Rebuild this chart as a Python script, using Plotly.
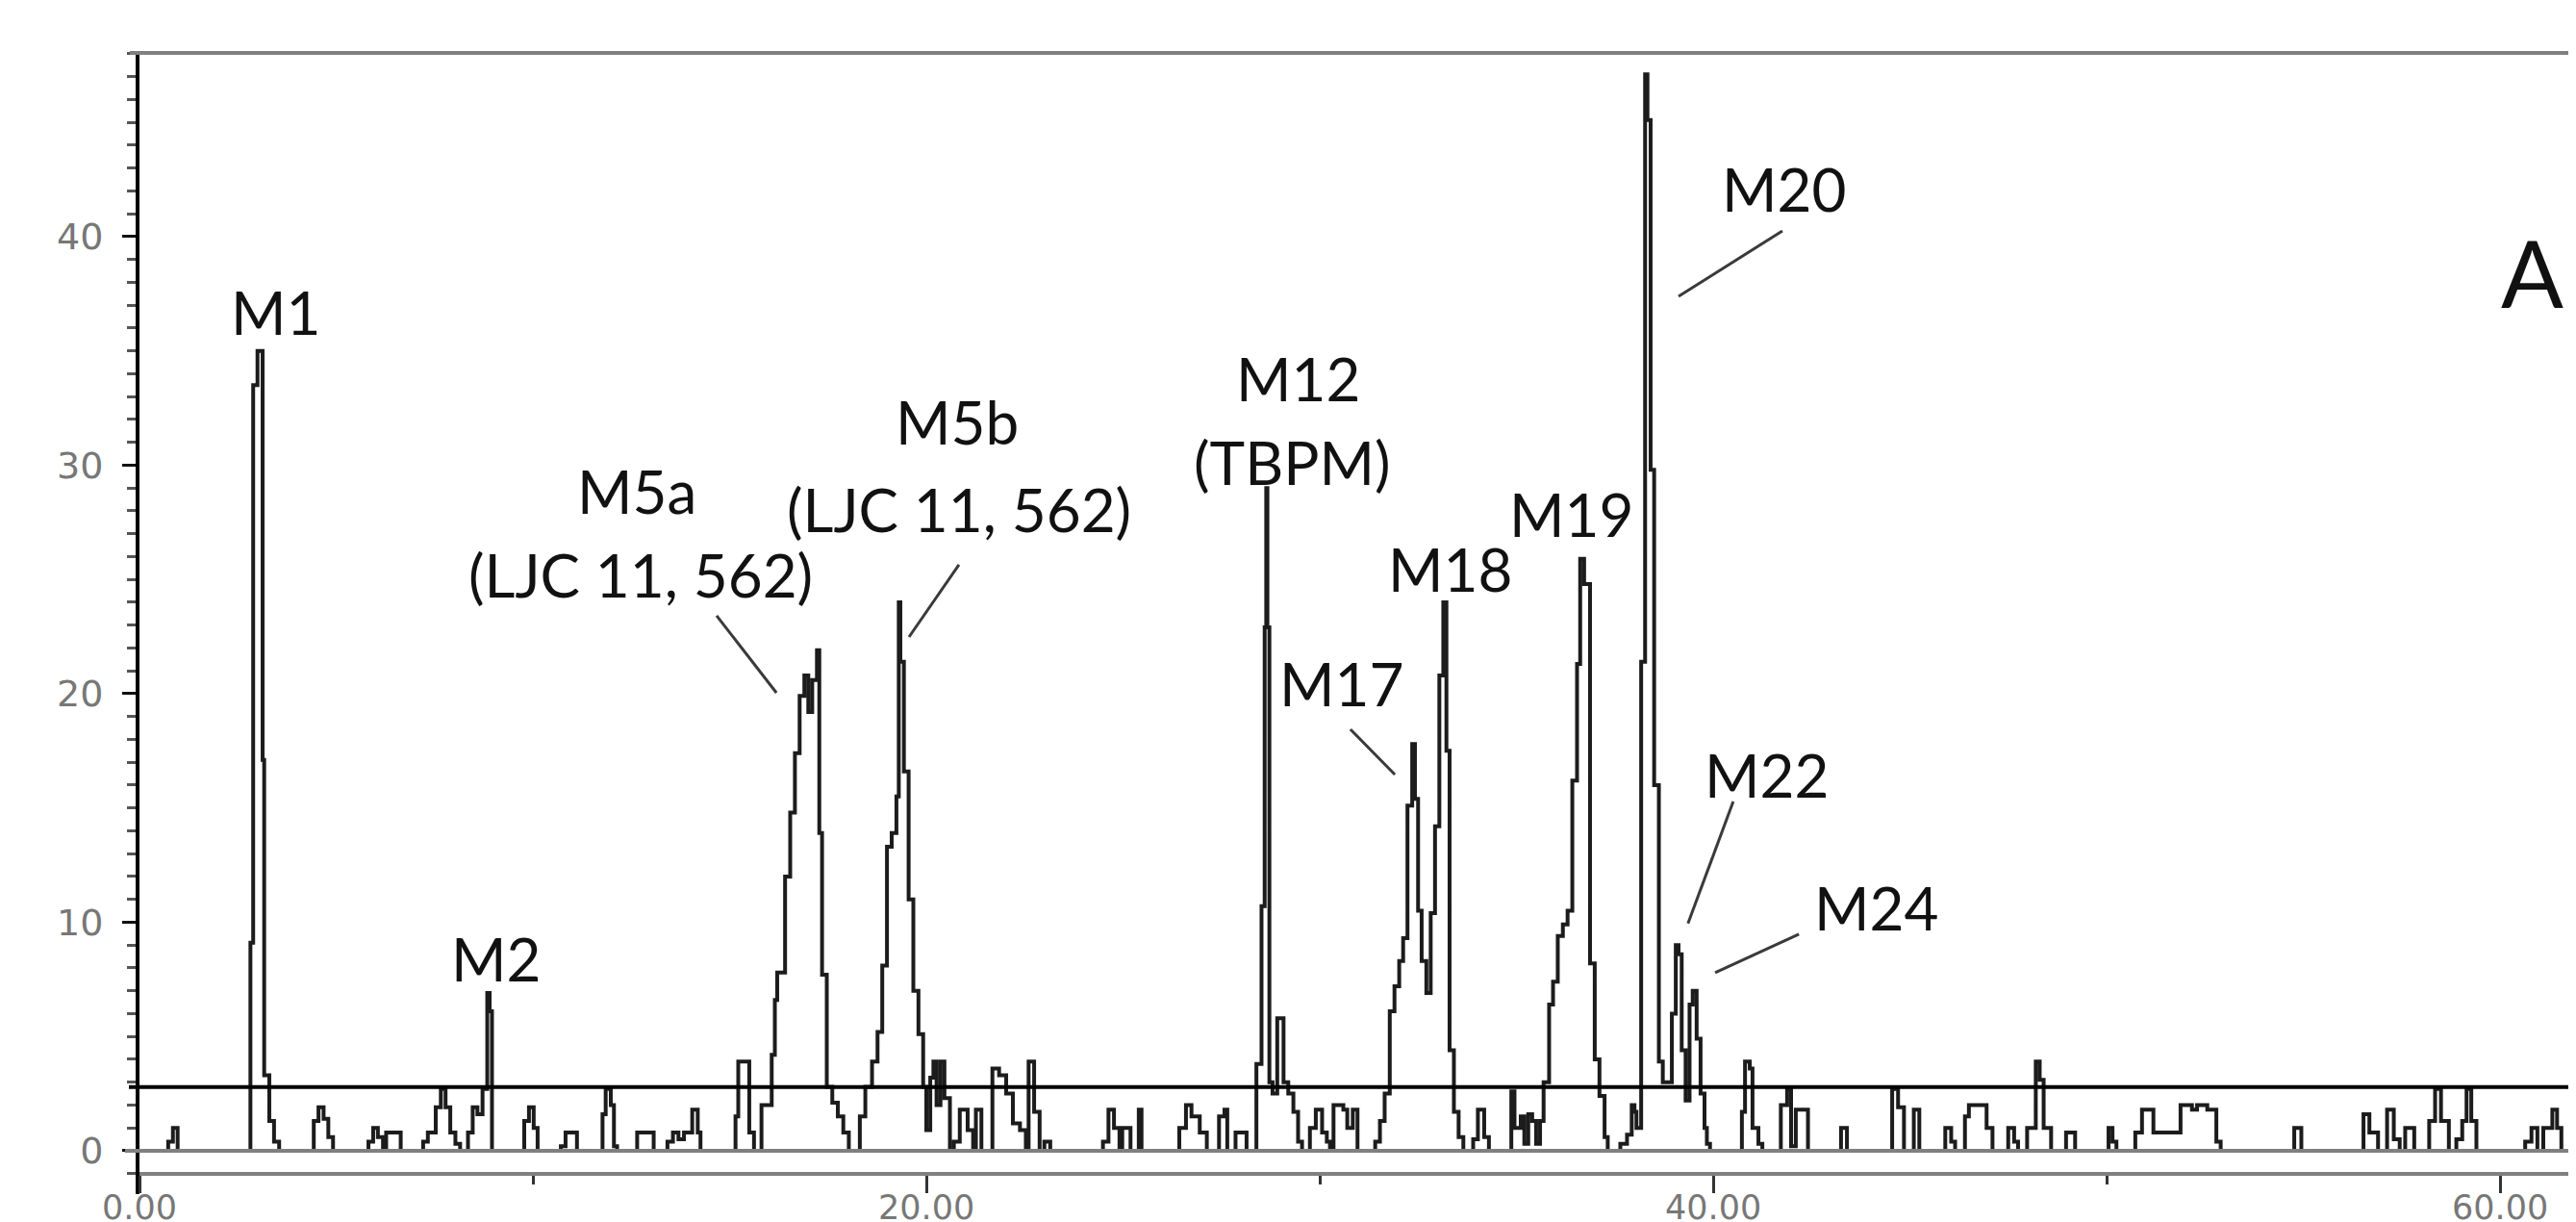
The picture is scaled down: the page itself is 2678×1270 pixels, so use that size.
import plotly.graph_objects as go

# ---- data (step trace: value starts at time) ----
time_min = [
    0.00, 0.73, 0.85, 0.97, 2.82, 2.89, 3.00, 3.13, 3.17, 3.30, 3.42, 3.55,
    4.43, 4.55, 4.68, 4.80, 4.92, 5.82, 5.94, 6.06, 6.19, 6.27, 6.64,
    7.21, 7.33, 7.53, 7.66, 7.78, 7.90, 8.03, 8.15, 8.35, 8.47, 8.59, 8.72, 8.84, 8.90, 8.96,
    9.78, 9.90, 10.02, 10.12, 10.71, 10.83, 11.12, 11.77, 11.85, 11.98, 12.06, 12.14,
    12.65, 13.07, 13.42, 13.56, 13.70, 13.84, 14.05, 14.19, 14.26,
    15.15, 15.22, 15.50, 15.62, 15.81, 16.07, 16.15, 16.21, 16.41, 16.54, 16.66, 16.78,
    16.90, 17.00, 17.10, 17.22, 17.28, 17.35, 17.47, 17.61, 17.75, 17.89, 18.03,
    18.31, 18.45, 18.62, 18.76, 18.88, 19.00, 19.12, 19.24, 19.30, 19.34, 19.43, 19.55,
    19.67, 19.80, 19.92, 20.00, 20.10, 20.18, 20.26, 20.36, 20.46, 20.60,
    20.70, 20.85, 21.05, 21.19, 21.26, 21.40, 21.68, 21.85, 22.03, 22.20, 22.38, 22.53,
    22.60, 22.74, 22.88, 23.00, 23.15, 24.49, 24.63, 24.77, 24.91, 24.98, 25.19, 25.40, 25.47,
    26.43, 26.60, 26.74, 26.95, 27.13, 27.44, 27.58, 27.65, 27.86, 28.14,
    28.39, 28.52, 28.60, 28.64, 28.67, 28.72, 28.80, 28.92, 29.08, 29.20, 29.33, 29.45, 29.55,
    29.75, 29.90, 30.06, 30.18, 30.26, 30.35, 30.60, 30.70, 30.84, 30.96,
    31.41, 31.53, 31.65, 31.78, 31.90, 32.02, 32.12, 32.23, 32.35, 32.42, 32.50, 32.59,
    32.71, 32.82, 32.93, 33.04, 33.14, 33.22, 33.30, 33.41, 33.53, 33.65,
    33.90, 34.02, 34.18, 34.30, 34.87, 34.95, 35.11, 35.20, 35.30, 35.40, 35.50, 35.60,
    35.69, 35.83, 35.93, 36.05, 36.18, 36.30, 36.42, 36.54, 36.62, 36.72, 36.87, 36.99,
    37.11, 37.24, 37.32, 37.64, 37.81, 37.93, 38.00, 38.05,
    38.17, 38.27, 38.33, 38.41, 38.50, 38.62, 38.72, 38.95, 39.05, 39.12, 39.20, 39.30,
    39.40, 39.48, 39.58, 39.68, 39.78, 39.84, 39.92,
    40.73, 40.81, 40.93, 41.00, 41.15, 41.25, 41.72, 41.88, 41.98, 42.10, 42.41,
    43.25, 43.40, 44.55, 44.70, 44.85, 45.10, 45.24, 45.90, 46.05, 46.15, 46.40, 46.50,
    46.95, 47.10, 47.50, 47.65, 47.75, 47.98, 48.20, 48.30, 48.40, 48.59, 48.97, 49.20,
    50.05, 50.15, 50.25, 50.73, 50.90, 51.19, 51.88, 52.17, 52.30, 52.56, 52.79, 52.90,
    54.77, 54.95, 56.53, 56.68, 56.90, 57.13, 57.30, 57.45, 57.59, 57.82,
    58.20, 58.35, 58.50, 58.70, 58.89, 59.04, 59.15, 59.27, 59.40,
    60.64, 60.80, 60.95, 61.10, 61.33, 61.45, 61.56, 61.87, 62.00, 62.12,
]
counts = [
    0, 0.4, 1.0, 0, 9.1, 33.5, 35.0, 17.1, 3.3, 1.3, 0.4, 0,
    1.3, 1.9, 1.4, 0.6, 0, 0.4, 1.0, 0.6, 0, 0.8, 0,
    0.4, 0.8, 1.9, 2.7, 1.9, 0.8, 0.3, 0, 0.8, 1.9, 1.6, 2.7, 6.9, 6.1, 0,
    1.3, 1.9, 1.0, 0, 0.2, 0.8, 0, 1.6, 2.7, 2.0, 0.2, 0,
    0.8, 0, 0.4, 0.8, 0.5, 0.8, 1.8, 0.8, 0,
    1.5, 3.9, 0.8, 0, 2.0, 4.2, 6.6, 7.8, 12.0, 14.8, 17.4, 19.9,
    20.8, 19.2, 20.6, 21.9, 13.9, 7.7, 2.8, 2.1, 1.5, 0.8, 0,
    1.5, 2.8, 3.9, 5.2, 8.1, 13.3, 13.9, 15.5, 24.0, 21.4, 16.6, 11.0,
    7.0, 5.1, 2.8, 0.9, 3.2, 3.9, 2.0, 3.9, 2.3, 0,
    0.4, 1.8, 0.9, 0, 1.8, 0, 3.6, 3.3, 2.5, 1.2, 0.9, 0,
    3.9, 1.7, 0, 0.4, 0, 0.4, 1.8, 1.0, 0, 1.0, 0, 1.8, 0,
    1.0, 2.0, 1.5, 0.8, 0, 1.5, 1.8, 0, 0.8, 0,
    3.8, 10.7, 22.9, 29.0, 22.9, 3.0, 2.5, 5.8, 3.0, 2.5, 1.7, 0.4, 0,
    1.0, 1.8, 0.8, 0.4, 0, 2.0, 1.8, 1.0, 1.8, 0,
    0.4, 1.3, 2.5, 6.1, 7.2, 8.3, 9.3, 15.1, 17.8, 15.4, 10.5, 8.3,
    6.9, 10.4, 14.2, 20.8, 24.0, 17.5, 4.4, 1.7, 0.6, 0,
    0.5, 1.8, 0.6, 0, 2.6, 1.0, 1.5, 0.3, 1.6, 1.3, 0.3, 1.3,
    3.0, 6.4, 7.4, 9.4, 9.9, 10.5, 16.2, 21.3, 25.9, 24.8, 8.2, 4.0,
    2.4, 0.6, 0, 0.3, 0.7, 2.0, 1.7, 1.0,
    21.4, 47.1, 45.1, 29.8, 16.0, 3.9, 3.0, 6.0, 9.0, 8.6, 4.4, 2.2,
    6.4, 7.0, 4.9, 2.5, 1.0, 0.3, 0,
    1.7, 3.9, 3.6, 1.0, 0.3, 0, 2.0, 2.7, 0.2, 1.8, 0,
    1.0, 0, 2.7, 1.9, 0, 1.8, 0, 1.0, 0.4, 0, 1.5, 2.0,
    1.0, 0, 1.0, 0.4, 0, 1.0, 3.9, 3.1, 1.0, 0, 0.8, 0,
    1.0, 0.4, 0, 0.8, 1.8, 0.8, 2.0, 1.8, 2.0, 1.8, 0.4, 0,
    1.0, 0, 1.6, 0.8, 0, 1.8, 0.5, 0, 1.0, 0,
    1.3, 2.7, 1.3, 0, 0.5, 1.3, 2.7, 1.3, 0,
    0.4, 1.0, 0, 1.0, 1.8, 1.0, 0, 1.8, 0.4, 0,
]

threshold = 2.78
x_ticks = [0, 20, 40, 60]
x_tick_text = ["0.00", "20.00", "40.00", "60.00"]

peak_labels = ["M1", "M2", "M5a", "(LJC 11, 562)", "M5b", "(LJC 11, 562)", "M12", "(TBPM)",
               "M17", "M18", "M19", "M20", "M22", "M24"]

# ---- figure ----
W, H = 2678, 1270
L, R, T, B = 137, 0, 47, 37
plot_h = H - T - B
y_lo, y_hi = -1.9, 48.04

fig = go.Figure()
fig.add_trace(go.Scatter(
    x=time_min, y=counts, mode="lines",
    line=dict(color="#1c1c1c", width=4, shape="hv"),
    hoverinfo="skip", showlegend=False,
))

label_pos = [
    (3.47, 36.7), (9.07, 8.42), (12.64, 28.9), (12.74, 25.2), (20.78, 31.9), (20.83, 28.1),
    (29.45, 33.8), (29.30, 30.15), (30.56, 20.46), (33.33, 25.47), (36.41, 27.87),
    (41.81, 42.1), (41.37, 16.46), (44.16, 10.65),
]
annotations = []
for txt, (tx, ty) in zip(peak_labels, label_pos):
    annotations.append(dict(x=tx, y=ty, xref="x", yref="y", text=txt, showarrow=False,
                            font=dict(family="Lato", size=62, color="#111111"),
                            xanchor="center", yanchor="middle"))
annotations.append(dict(x=60.83, y=38.44, xref="x", yref="y", text="A", showarrow=False,
                        font=dict(family="Lato", size=96, color="#111111"),
                        xanchor="center", yanchor="middle"))
# x tick labels, placed just under the free-floating x axis
for tv, tt in zip(x_ticks, x_tick_text):
    annotations.append(dict(x=tv, y=-(1247 - (H - B)) / plot_h, xref="x", yref="paper",
                            text=tt, showarrow=False, borderpad=0,
                            font=dict(family="DejaVu Sans", size=35, color="#777777"),
                            xanchor="center", yanchor="middle"))

leaders = [
    (14.67, 23.41, 16.19, 20.04),
    (20.83, 25.64, 19.56, 22.48),
    (30.78, 18.44, 31.91, 16.46),
    (41.76, 40.25, 39.12, 37.39),
    (40.51, 15.28, 39.36, 9.94),
    (42.18, 9.47, 40.05, 7.79),
]
shapes = []
for x0, y0, x1, y1 in leaders:
    shapes.append(dict(type="line", xref="x", yref="y", x0=x0, y0=y0, x1=x1, y1=y1,
                       line=dict(color="#3a3a3a", width=3)))
pw = W - L - R
# baseline (gray), threshold (black), top border (gray)
shapes.append(dict(type="line", xref="paper", yref="y", x0=-15 / pw, x1=1, y0=0, y1=0,
                   line=dict(color="#808080", width=4), layer="above"))
shapes.append(dict(type="line", xref="paper", yref="y", x0=-11 / pw, x1=1,
                   y0=threshold, y1=threshold, line=dict(color="#000000", width=4), layer="above"))
shapes.append(dict(type="line", xref="paper", yref="paper", x0=-10 / pw, x1=1, y0=1, y1=1,
                   line=dict(color="#808080", width=4)))

fig.update_layout(
    width=W, height=H, autosize=False,
    margin=dict(l=L, r=R, t=T, b=B, pad=0),
    paper_bgcolor="white", plot_bgcolor="white",
    showlegend=False,
    annotations=annotations, shapes=shapes,
    xaxis=dict(
        range=[0, (W - L) / 40.9], anchor="free", position=21 / plot_h,
        tickvals=x_ticks, showticklabels=False,
        ticks="outside", ticklen=18, tickwidth=3, tickcolor="#333333",
        minor=dict(tickvals=[10, 30, 50], ticks="outside", ticklen=9, tickwidth=3, tickcolor="#333333"),
        showline=True, linecolor="#808080", linewidth=4,
        showgrid=False, zeroline=False,
    ),
    yaxis=dict(
        range=[y_lo, y_hi], tick0=0, dtick=10,
        ticks="outside", ticklen=14, tickwidth=3, tickcolor="#111111",
        minor=dict(dtick=1, ticks="outside", ticklen=9, tickwidth=3, tickcolor="#555555"),
        showline=True, linecolor="#000000", linewidth=4,
        showgrid=False, zeroline=False, ticklabelstandoff=12,
        tickfont=dict(family="DejaVu Sans", size=38, color="#777777"),
    ),
)

fig.write_html("out.html")
